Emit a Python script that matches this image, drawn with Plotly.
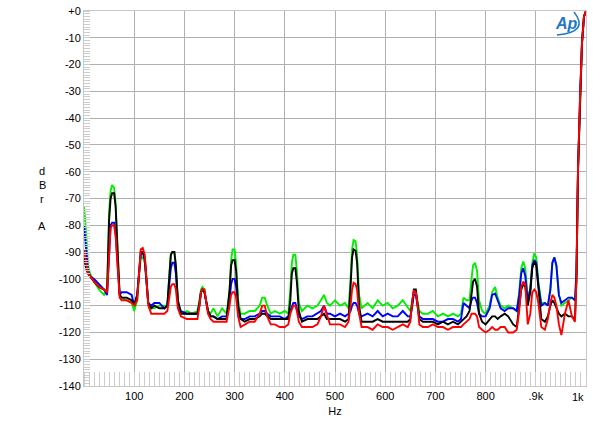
import plotly.graph_objects as go

freq = [0, 4, 8, 12, 20, 30, 40, 46, 50, 53,
        56, 60, 63, 67, 71, 75, 85, 95, 100, 106,
        110, 113, 117, 121, 124, 128, 134, 140, 150, 160,
        166, 170, 173, 176, 180, 183, 187, 193, 205, 215,
        226, 230, 233, 236, 240, 243, 247, 252, 258, 266,
        275, 284, 290, 293, 296, 300, 303, 307, 312, 320,
        330, 340, 350, 355, 360, 365, 372, 380, 390, 400,
        407, 411, 414, 417, 421, 424, 428, 434, 445, 455,
        465, 472, 478, 484, 490, 500, 510, 520, 527, 531,
        534, 537, 541, 544, 548, 553, 565, 575, 585, 595,
        605, 615, 625, 635, 645, 650, 654, 657, 661, 664,
        668, 675, 685, 695, 705, 715, 725, 735, 745, 751,
        756, 762, 768, 772, 775, 779, 783, 787, 793, 800,
        808, 813, 819, 824, 830, 838, 845, 855, 862, 867,
        871, 875, 879, 884, 889, 893, 897, 901, 905, 911,
        918, 924, 929, 933, 937, 941, 946, 951, 958, 965,
        972, 978, 981, 984, 988, 992, 996, 1000]

green = [-73, -82, -95, -98, -101, -104, -106, -104, -75, -67,
         -65, -66, -72, -90, -106, -107, -108, -109, -112, -108,
         -98, -92, -92, -94, -100, -109, -111, -111, -110, -110,
         -110, -98, -91, -90, -90, -95, -108, -113, -112, -113,
         -112, -108, -104, -103, -104, -108, -112, -113, -111, -114,
         -111, -113, -105, -93, -89, -89, -94, -108, -113, -113,
         -112, -112, -110, -107, -107, -110, -113, -112, -113, -112,
         -113, -104, -94, -91, -91, -97, -109, -112, -110, -111,
         -110, -108, -106, -109, -110, -108, -110, -109, -111, -100,
         -89, -85.5, -86, -91, -106, -111, -109, -111, -108, -110,
         -109, -111, -110, -108, -111, -112, -108, -105, -105, -108,
         -112, -113, -113, -112, -114, -113, -114, -113, -114, -113,
         -107, -108, -108, -100, -95, -94, -97, -108, -112, -113,
         -110, -105, -103, -107, -110, -111, -110, -111, -112, -105,
         -96, -93.5, -96, -107, -104, -94, -90.5, -92, -101, -109,
         -109, -110, -104, -94, -92, -95, -106, -110, -109, -108,
         -107, -108, -100, -60, -33, -12, -2, 0]

blue = [-80, -88, -97, -99, -100, -102, -104, -106, -88, -80,
        -79, -79, -83, -95, -106, -105, -105, -106, -110, -106,
        -97, -91, -90, -93, -100, -109, -110, -109, -109, -111,
        -110, -103, -96, -94, -94, -98, -109, -112, -113, -113,
        -113, -110, -105, -104, -105, -108, -112, -114, -114, -115,
        -114, -114, -108, -102, -100, -100, -103, -111, -115, -115,
        -114, -114, -113, -112, -112, -113, -114, -114, -114, -115,
        -114, -112, -110, -109, -109, -111, -114, -115, -114, -114,
        -113, -112, -110, -113, -113, -114, -113, -114, -113, -112,
        -110, -109, -109, -110, -113, -114, -113, -114, -112, -114,
        -113, -114, -114, -112, -114, -114, -110, -106, -106, -110,
        -114, -115, -115, -115, -116, -116, -115, -115, -116, -115,
        -109, -110, -111, -108, -107, -107, -109, -113, -114, -114,
        -111, -106, -105.5, -108, -111, -112, -111, -111, -112, -106,
        -98, -96, -99, -108, -104, -95, -93, -94, -102, -110,
        -109, -110, -104, -94, -92, -95, -106, -109, -108, -107,
        -107, -108, -97, -60, -33, -12, -2, 0]

black = [-92, -96, -98, -99, -101, -103, -104, -105, -78, -70,
         -68, -68, -73, -90, -106, -107, -107, -108, -110, -106,
         -96, -90, -90, -92, -99, -109, -111, -110, -111, -111,
         -110, -99, -91, -90, -90, -95, -108, -113, -113, -113,
         -113, -109, -105, -104, -105, -108, -112, -114, -114, -115,
         -115, -115, -104, -95, -93, -93, -97, -110, -115, -116,
         -115, -115, -114, -113, -113, -114, -115, -115, -115, -115,
         -115, -108, -98, -96, -96, -101, -112, -116, -115, -115,
         -115, -114, -113, -115, -115, -115, -115, -116, -115, -103,
         -92, -89, -89.5, -94, -110, -116, -116, -116, -115, -116,
         -116, -116, -116, -116, -116, -115, -107, -104, -104, -108,
         -115, -116, -116, -116, -117, -116, -117, -116, -117, -116,
         -115, -114, -112, -106, -101, -100, -103, -113, -116, -117,
         -115, -114, -114, -115, -114, -113, -114, -117, -118, -110,
         -104, -102, -103, -110, -105, -96, -93.5, -95, -104, -115,
         -116, -114, -110, -108, -109, -111, -113, -114, -113, -114,
         -114, -115, -100, -60, -33, -12, -2, 0]

red = [-89, -94, -98, -99, -101, -103, -104, -105, -88, -81,
       -80, -80, -84, -96, -107, -108, -108, -109, -110, -108,
       -97, -89, -88.5, -91, -99, -110, -113, -113, -113, -113,
       -112, -107, -103, -102, -102, -104, -111, -114, -115, -115,
       -115, -110, -105, -104, -104, -108, -113, -115, -116, -116,
       -116, -116, -110, -106, -105, -105, -107, -114, -118, -117,
       -116, -116, -113, -110, -110, -114, -117, -117, -118, -118,
       -117, -113, -111, -110, -110, -112, -116, -118, -118, -118,
       -117, -114, -110, -114, -117, -117, -117, -118, -116, -110,
       -104, -101.5, -102, -104, -113, -118, -118, -119, -117, -118,
       -118, -119, -118, -117, -118, -116, -108, -104.5, -105, -109,
       -117, -118, -118, -117, -118, -118, -119, -118, -118, -118,
       -117, -116, -115, -113, -113, -113, -114, -118, -119, -120,
       -119, -118, -119, -119, -118, -118, -120, -120, -119, -112,
       -103, -101, -102, -117, -113, -105, -104, -105, -109, -118,
       -119, -115, -109, -106, -107, -110, -117, -121, -113, -108,
       -114, -116, -100, -60, -33, -12, -2, 0]

series = [("green", "#00ee00", green), ("blue", "#0000ff", blue),
          ("black", "#000000", black), ("red", "#ff0000", red)]

yticks = list(range(0, -141, -10))
ytext = ["+0"] + [str(v) for v in yticks[1:]]
xticks = [100, 200, 300, 400, 500, 600, 700, 800, 900, 1000]
xtext = ["100", "200", "300", "400", "500", "600", "700", "800", ".9k", ""]

for _, _, v in series:
    assert len(v) == len(freq)

fig = go.Figure()
for name, color, vals in series:
    fig.add_trace(go.Scatter(x=freq, y=vals, mode="lines", name=name,
                             line=dict(color=color, width=1.9), showlegend=False))

FONT = "Liberation Sans, Arial, sans-serif"
L, R, T, B = 84, 586, 11, 386
W, H = 600, 429


def px(xp):
    return (xp - L) / (R - L)


def py(yp):
    return (B - yp) / (B - T)


fig.update_layout(
    width=W, height=H,
    margin=dict(l=L, r=W - R, t=T, b=H - B, pad=0),
    paper_bgcolor="white", plot_bgcolor="white",
    font=dict(family=FONT, size=11, color="#000000"),
    xaxis=dict(range=[0, 1000], tickvals=xticks, ticktext=xtext, automargin=False,
               showgrid=True, gridcolor="#b0b0b0", gridwidth=1,
               showline=True, linecolor="#c8c8c8", mirror=True, zeroline=False,
               ticks="", ticklen=0, tickfont=dict(size=11), ticklabeloverflow="allow",
               minor=dict(dtick=10, ticks="inside", ticklen=14, tickcolor="#cccccc", showgrid=False),
               title=dict(text="Hz", font=dict(size=11), standoff=6)),
    yaxis=dict(range=[-140, 0], tickvals=yticks, ticktext=ytext, automargin=False,
               showgrid=True, gridcolor="#b0b0b0", gridwidth=1,
               showline=True, linecolor="#c8c8c8", mirror=True, zeroline=False,
               ticks="", ticklen=0, tickfont=dict(size=11), ticklabeloverflow="allow",
               minor=dict(dtick=1, ticks="inside", ticklen=6, tickcolor="#cccccc", showgrid=False)),
)

# last x tick label, kept inside the figure as in the reference
fig.add_annotation(text="1k", xref="paper", yref="paper", x=px(586), y=py(397),
                   showarrow=False, xanchor="right", yanchor="middle", font=dict(size=11, family=FONT))

for txt, ypx in [("d", 171), ("B", 185), ("r", 199), ("A", 226)]:
    fig.add_annotation(text=txt, xref="paper", yref="paper",
                       x=px(42), y=py(ypx),
                       showarrow=False, xanchor="center", yanchor="middle",
                       font=dict(size=11, family=FONT))

# Ap logo
fig.add_annotation(text="<b><i>Ap</i></b>", xref="paper", yref="paper",
                   x=px(566), y=py(24), showarrow=False,
                   xanchor="center", yanchor="middle",
                   font=dict(size=16, color="#1f78c1", family=FONT))
fig.add_shape(type="path", xref="paper", yref="paper",
              path=f"M {px(557)},{py(35)} Q {px(590)},{py(32)} {px(574)},{py(12)}",
              line=dict(color="#1f78c1", width=1.5))

fig.write_html("out.html", config={"displayModeBar": False},
               post_script="document.body.style.margin='0';document.body.style.overflow='hidden';")
